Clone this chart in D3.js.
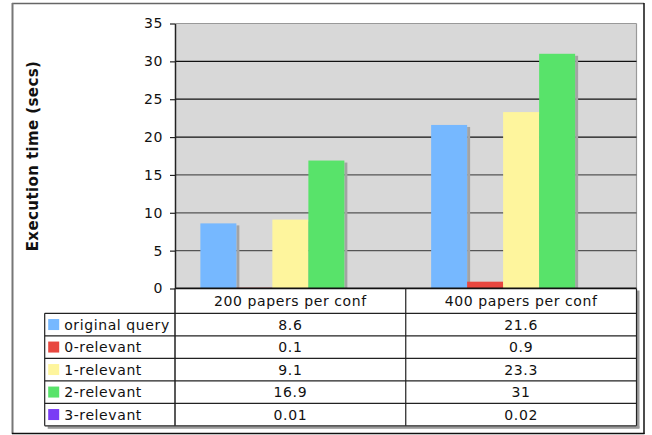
<!DOCTYPE html>
<html><head><meta charset="utf-8">
<script src="https://cdn.jsdelivr.net/npm/d3@7"></script>
<style>
html,body{margin:0;padding:0;background:#fff;}
svg{display:block;font-family:"DejaVu Sans",Verdana,sans-serif;}
</style></head>
<body><svg id="c" width="652" height="435"></svg>
<script>
const categories = ["200 papers per conf", "400 papers per conf"];
const seriesNames = ["original query", "0-relevant", "1-relevant", "2-relevant", "3-relevant"];
const seriesColors = ["#76b8ff", "#e8473f", "#fef59d", "#58e36a", "#7a3cf5"];
const valuesOriginal = [8.6, 21.6];
const values0 = [0.1, 0.9];
const values1 = [9.1, 23.3];
const values2 = [16.9, 31];
const values3 = [0.01, 0.02];
const tableLabels = [["8.6","21.6"],["0.1","0.9"],["9.1","23.3"],["16.9","31"],["0.01","0.02"]];
const yTicks = [0, 5, 10, 15, 20, 25, 30, 35];
const yTitle = "Execution time (secs)";

const allSeries = [valuesOriginal, values0, values1, values2, values3];
const svg = d3.select("#c");
const FS = 14, LS = 0.6;

const plot = {left: 175, right: 636.5, top: 23.5, bottom: 288.5};
const table = {left: 44.7, headerH: 24.8, rowH: 22.5};

// outer frame
svg.append("line").attr("x1",12).attr("y1",3.5).attr("x2",644).attr("y2",3.5).attr("stroke","#666").attr("stroke-width",1.5);
svg.append("line").attr("x1",12.5).attr("y1",3).attr("x2",12.5).attr("y2",434).attr("stroke","#777").attr("stroke-width",2);
svg.append("line").attr("x1",644).attr("y1",3).attr("x2",644).attr("y2",434).attr("stroke","#111").attr("stroke-width",1.5);
svg.append("line").attr("x1",12).attr("y1",433.5).attr("x2",644.5).attr("y2",433.5).attr("stroke","#111").attr("stroke-width",1.5);

const y = d3.scaleLinear().domain([0, 35]).range([plot.bottom, plot.top]);
const x0 = d3.scaleBand().domain(categories).range([plot.left, plot.right]).padding(0);
const x1 = d3.scaleBand().domain(seriesNames).range([0, x0.bandwidth()]).paddingInner(0).paddingOuter(0.705);

// plot background
svg.append("rect").attr("x",plot.left).attr("y",plot.top).attr("width",plot.right-plot.left).attr("height",plot.bottom-plot.top).attr("fill","#d8d8d8");
svg.append("line").attr("x1",plot.left).attr("x2",plot.right).attr("y1",plot.top).attr("y2",plot.top).attr("stroke","#999").attr("stroke-width",1.2);
svg.append("line").attr("x1",plot.right).attr("x2",plot.right).attr("y1",plot.top).attr("y2",plot.bottom).attr("stroke","#999").attr("stroke-width",1.2);

// gridlines
svg.append("g").selectAll("line").data(yTicks.filter(d => d > 0 && d < 35)).join("line")
  .attr("x1",plot.left).attr("x2",plot.right)
  .attr("y1",d=>y(d)).attr("y2",d=>y(d))
  .attr("stroke",d=> d>=20 ? "#111" : "#555").attr("stroke-width",1.2);

// bars
const groups = svg.append("g").selectAll("g").data(categories).join("g")
  .attr("transform",c=>`translate(${x0(c)},0)`);
groups.each(function(c, ci){
  const g = d3.select(this);
  const data = seriesNames.map((s,si)=>({s, si, v: allSeries[si][ci]}));
  g.selectAll("rect.sh").data(data).join("rect").attr("class","sh")
    .attr("x",d=>x1(d.s)+x1.bandwidth()).attr("y",d=>Math.min(y(d.v)+2, y(0)))
    .attr("width",3).attr("height",d=>Math.max(0, y(0)-y(d.v)-2)).attr("fill","#a3a3a3");
  g.selectAll("rect.b").data(data).join("rect").attr("class","b")
    .attr("x",d=>x1(d.s)).attr("y",d=>y(d.v))
    .attr("width",x1.bandwidth()).attr("height",d=>y(0)-y(d.v))
    .attr("fill",d=>seriesColors[d.si]);
});

// zero baseline
svg.append("line").attr("x1",plot.left).attr("x2",plot.right).attr("y1",y(0)).attr("y2",y(0)).attr("stroke","#111").attr("stroke-width",2);

// y axis
const yAxis = svg.append("g").attr("transform",`translate(${plot.left},0)`)
  .call(d3.axisLeft(y).tickValues(yTicks).tickSize(5).tickPadding(7).tickSizeOuter(0));
yAxis.select(".domain").attr("stroke","#222").attr("stroke-width",1.5);
yAxis.selectAll(".tick line").attr("stroke","#222").attr("stroke-width",1.2);
yAxis.selectAll("text").attr("font-size",FS).attr("letter-spacing",LS).attr("fill","#111").attr("font-family","DejaVu Sans, sans-serif");

svg.append("text").attr("transform",`translate(38,${(plot.top+plot.bottom)/2 + 0}) rotate(-90)`)
  .attr("text-anchor","middle").attr("font-weight","bold").attr("font-size",15).attr("letter-spacing",0.4).attr("fill","#111").text(yTitle);

// data table
const tTop = plot.bottom;
const hdrBottom = tTop + table.headerH;
const tBottom = hdrBottom + table.rowH * seriesNames.length;
svg.append("rect").attr("x",plot.right+0.5).attr("y",tTop+2).attr("width",2.5).attr("height",tBottom-tTop).attr("fill","#9a9a9a");
svg.append("rect").attr("x",table.left+3).attr("y",tBottom+0.5).attr("width",plot.right-table.left).attr("height",2.5).attr("fill","#9a9a9a");
svg.append("rect").attr("x",plot.left).attr("y",tTop+1).attr("width",plot.right-plot.left).attr("height",table.headerH-1).attr("fill","#fff");
svg.append("rect").attr("x",table.left).attr("y",hdrBottom).attr("width",plot.right-table.left).attr("height",tBottom-hdrBottom).attr("fill","#fff");

const lineC = "#222";
const hLines = d3.range(seriesNames.length+1).map(i => hdrBottom + i*table.rowH);
svg.append("g").selectAll("line").data(hLines).join("line")
  .attr("x1",table.left).attr("x2",plot.right).attr("y1",d=>d).attr("y2",d=>d)
  .attr("stroke",lineC).attr("stroke-width",1.2);
svg.append("line").attr("x1",table.left).attr("x2",table.left).attr("y1",hdrBottom).attr("y2",tBottom).attr("stroke",lineC).attr("stroke-width",1.2);
svg.append("line").attr("x1",plot.left).attr("x2",plot.left).attr("y1",tTop).attr("y2",tBottom).attr("stroke",lineC).attr("stroke-width",1.5);
svg.append("g").selectAll("line").data(categories).join("line")
  .attr("x1",c=>x0(c)+x0.bandwidth()).attr("x2",c=>x0(c)+x0.bandwidth())
  .attr("y1",tTop).attr("y2",tBottom).attr("stroke",lineC).attr("stroke-width",1.2);

svg.append("g").selectAll("text").data(categories).join("text")
  .attr("x",c=>x0(c)+x0.bandwidth()/2).attr("y",tTop + table.headerH/2 + 5)
  .attr("text-anchor","middle").attr("font-size",FS).attr("letter-spacing",LS).attr("fill","#111").text(c=>c);

seriesNames.forEach((s, si) => {
  const cy = hdrBottom + si*table.rowH + table.rowH/2;
  svg.append("rect").attr("x",table.left+3.5).attr("y",cy-5.5).attr("width",11).attr("height",11).attr("fill",seriesColors[si]);
  svg.append("text").attr("x",table.left+19.5).attr("y",cy+5).attr("font-size",FS).attr("letter-spacing",LS).attr("fill","#111").text(s);
  categories.forEach((c, ci) => {
    svg.append("text").attr("x",x0(c)+x0.bandwidth()/2).attr("y",cy+5).attr("text-anchor","middle")
      .attr("font-size",FS).attr("letter-spacing",LS).attr("fill","#111").text(tableLabels[si][ci]);
  });
});
</script></body></html>
